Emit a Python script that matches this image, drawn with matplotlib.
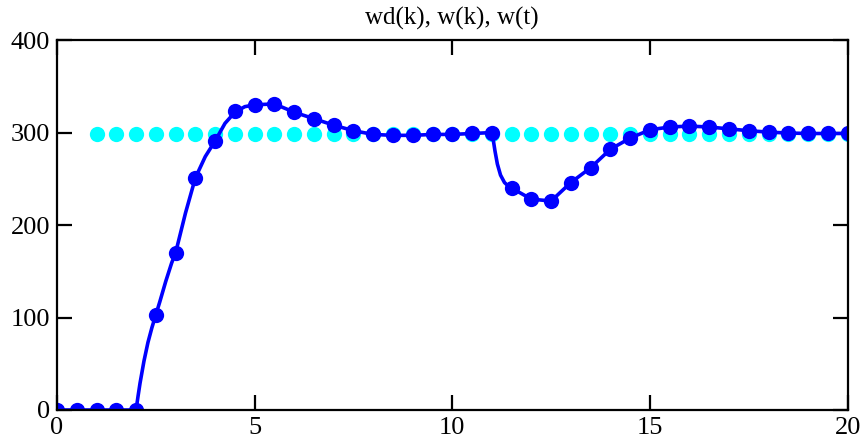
import numpy as np
import matplotlib
matplotlib.use("Agg")
import matplotlib.pyplot as plt

# setpoint wd(k)
k_wd = np.arange(1, 20.01, 0.5)
wd_level = 298

# sampled output w(k)
k_w = np.arange(0, 20.01, 0.5)
w_k = [0, 0, 0, 0, 0, 103, 170, 251, 291, 323, 330, 331, 322, 315, 308, 302,
       298, 297, 297, 298, 298, 299, 300, 240, 228, 226, 246, 262, 282, 294,
       303, 306, 307, 306, 304, 302, 300.5, 299.5, 299, 299, 299]

# continuous output w(t)
t_c = [0, 2.0, 2.05, 2.1, 2.2, 2.3, 2.4, 2.5, 2.6, 2.75, 2.9, 3.0, 3.25, 3.5,
       3.75, 4.0, 4.25, 4.5, 4.75, 5.0, 5.5,
       6.0, 6.5, 7.0, 7.5, 8.0, 8.5, 9.0, 9.5, 10.0, 10.5, 11.0, 11.04, 11.08,
       11.14, 11.22, 11.32, 11.42, 11.5, 12.0, 12.5, 13.0, 13.5, 14.0, 14.5,
       15.0, 15.5, 16.0, 16.5, 17.0, 17.5, 18.0, 18.5, 19.0, 19.5, 20.0]
w_c = [0, 0, 15, 29, 53, 73, 89, 103, 117, 139, 159, 170, 213, 251,
       274, 291, 310, 322, 328, 330, 331,
       322, 315, 308, 302, 298, 297, 297, 298, 298, 299, 300, 291, 280,
       266, 254, 246, 242, 240, 228, 226, 246, 262, 282, 294,
       303, 306, 307, 306, 304, 302, 300.5, 299.5, 299, 299, 299]

plt.rcParams['font.family'] = ['Liberation Serif', 'DejaVu Serif']

fig = plt.figure(figsize=(8.64, 4.43), dpi=100)
ax = fig.add_axes([0.066, 0.0745, 0.915, 0.835])

ax.plot(k_wd, [wd_level] * len(k_wd), linestyle='none', marker='o',
        markersize=11, color='#00ffff', markeredgewidth=0)
ax.plot(t_c, w_c, color='#0000ff', linewidth=2.6)
ax.plot(k_w, w_k, linestyle='none', marker='o', markersize=11,
        color='#0000ff', markeredgewidth=0)

ax.set_xlim(0, 20)
ax.set_ylim(0, 400)
ax.set_xticks([0, 5, 10, 15, 20])
ax.set_yticks([0, 100, 200, 300, 400])
ax.tick_params(direction='in', length=11, width=1.6, top=True, right=True,
               labelsize=19, pad=5)
for s in ax.spines.values():
    s.set_linewidth(1.6)

ax.set_title('wd(k), w(k), w(t)', fontsize=18, pad=11)

fig.savefig('out.png', dpi=100)
